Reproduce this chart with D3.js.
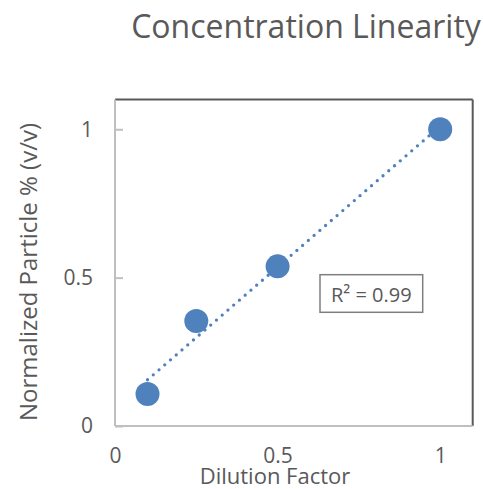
<!DOCTYPE html>
<html>
<head>
<meta charset="utf-8">
<script src="https://cdn.jsdelivr.net/npm/d3@7"></script>
<style>
  body { margin: 0; background: #fff; }
  text { font-family: "Open Sans", sans-serif; fill: #595959; }
</style>
</head>
<body>
<script>
/* chart data */
var dilution = [0.1, 0.25, 0.5, 1];
var particle = [0.108, 0.354, 0.538, 1.0];
var xTicks = [0, 0.5, 1];
var yTicks = [0, 0.5, 1];
var titleText = "Concentration Linearity";
var xTitle = "Dilution Factor";
var yTitle = "Normalized Particle % (v/v)";
var r2Label = "R\u00b2 = 0.99";

var width = 483, height = 489;
var blue = "#4f81bd";

var svg = d3.select("body")
    .append("svg")
    .attr("width", width)
    .attr("height", height);

/* plot area */
var plotLeft = 115, plotRight = 472.7, plotTop = 99.6, plotBottom = 426;

var x = d3.scaleLinear().domain([0, 1.1]).range([plotLeft, plotRight]);
var y = d3.scaleLinear().domain([0, 1.1]).range([plotBottom, plotTop]);

/* title */
svg.append("text")
    .attr("x", 306)
    .attr("y", 38)
    .attr("text-anchor", "middle")
    .style("font-size", "32px")
    .text(titleText);

/* axes */
var yAxis = d3.axisLeft(y)
    .tickValues(yTicks)
    .tickFormat(d3.format("~g"))
    .tickSize(-8)
    .tickPadding(22);

var yg = svg.append("g")
    .attr("transform", "translate(" + plotLeft + ",0)")
    .call(yAxis);
yg.select(".domain").remove();
yg.selectAll(".tick line").attr("stroke", "#bfbfbf").attr("stroke-width", 2);
yg.selectAll(".tick text").style("font-size", "21px").attr("fill", "#595959");

var xAxis = d3.axisBottom(x)
    .tickValues(xTicks)
    .tickFormat(d3.format("~g"))
    .tickSize(0)
    .tickPadding(22);

var xg = svg.append("g")
    .attr("transform", "translate(0," + plotBottom + ")")
    .call(xAxis);
xg.select(".domain").remove();
xg.selectAll(".tick text").style("font-size", "21px").attr("fill", "#595959");

/* frame: light axes left/bottom, dark top/right */
svg.append("line")
    .attr("x1", plotLeft).attr("x2", plotRight).attr("y1", plotTop).attr("y2", plotTop)
    .attr("stroke", "#595959").attr("stroke-width", 2);
svg.append("line")
    .attr("x1", plotRight).attr("x2", plotRight).attr("y1", plotTop).attr("y2", plotBottom)
    .attr("stroke", "#595959").attr("stroke-width", 2);
svg.append("line")
    .attr("x1", plotLeft).attr("x2", plotLeft).attr("y1", plotTop).attr("y2", plotBottom)
    .attr("stroke", "#bfbfbf").attr("stroke-width", 2);
svg.append("line")
    .attr("x1", plotLeft).attr("x2", plotRight).attr("y1", plotBottom).attr("y2", plotBottom)
    .attr("stroke", "#bfbfbf").attr("stroke-width", 2);

/* linear trendline (least squares) */
var n = dilution.length;
var mx = d3.mean(dilution), my = d3.mean(particle);
var sxx = 0, sxy = 0;
for (var i = 0; i < n; i++) {
    sxx += (dilution[i] - mx) * (dilution[i] - mx);
    sxy += (dilution[i] - mx) * (particle[i] - my);
}
var slope = sxy / sxx;
var icpt = my - slope * mx;
var xExt = d3.extent(dilution);

svg.append("line")
    .attr("x1", x(xExt[0])).attr("y1", y(icpt + slope * xExt[0]))
    .attr("x2", x(xExt[1])).attr("y2", y(icpt + slope * xExt[1]))
    .attr("stroke", blue)
    .attr("stroke-width", 3.3)
    .attr("stroke-linecap", "round")
    .attr("stroke-dasharray", "0 7.6");

/* points */
svg.selectAll("circle.pt")
    .data(dilution)
    .enter()
    .append("circle")
    .attr("class", "pt")
    .attr("cx", function (d) { return x(d); })
    .attr("cy", function (d, i) { return y(particle[i]); })
    .attr("r", 12)
    .style("fill", blue);

/* R squared label */
svg.append("rect")
    .attr("x", 320).attr("y", 274.7)
    .attr("width", 102.7).attr("height", 37.6)
    .attr("fill", "#fff")
    .attr("stroke", "#7f7f7f")
    .attr("stroke-width", 1.5);
svg.append("text")
    .attr("x", 371.3)
    .attr("y", 301.5)
    .attr("text-anchor", "middle")
    .style("font-size", "20px")
    .text(r2Label);

/* axis titles */
svg.append("text")
    .attr("x", 275)
    .attr("y", 484)
    .attr("text-anchor", "middle")
    .style("font-size", "22px")
    .text(xTitle);

svg.append("text")
    .attr("transform", "translate(37,272) rotate(-90)")
    .attr("text-anchor", "middle")
    .style("font-size", "24px")
    .text(yTitle);
</script>
</body>
</html>
